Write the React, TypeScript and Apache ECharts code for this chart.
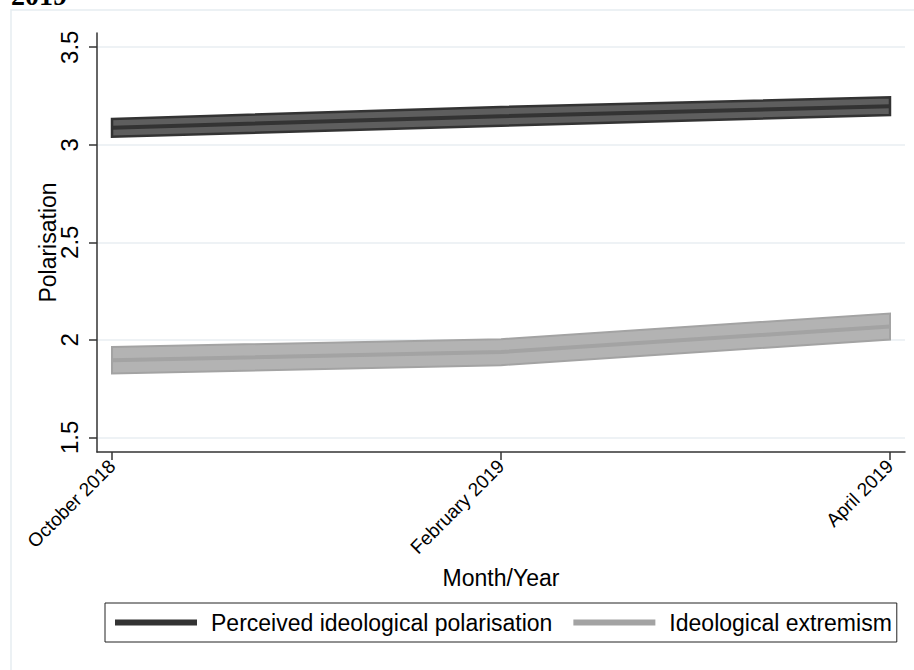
import React, { useEffect, useRef } from "react";
import * as echarts from "echarts";

const catLabels = ["October 2018", "February 2019", "April 2019"];
const catIndex = [0, 1, 2];
const yTicks = [1.5, 2, 2.5, 3, 3.5];

const polarMean = [3.087, 3.146, 3.198];
const polarLo = [3.041, 3.098, 3.153];
const polarHi = [3.132, 3.194, 3.243];

const extremMean = [1.895, 1.937, 2.068];
const extremLo = [1.827, 1.87, 2.001];
const extremHi = [1.963, 2.003, 2.135];

const seriesNames = ["Perceived ideological polarisation", "Ideological extremism"];

const FONT = "'Liberation Sans', Arial, sans-serif";

function bandSeries(lo: number[], hi: number[], fill: string, stroke: string, lw: number) {
  return {
    type: "custom",
    z: 2,
    silent: true,
    data: catIndex.map((x, i) => [x, lo[i], hi[i]]),
    encode: { x: 0, y: [1, 2] },
    renderItem: (params: any, api: any) => {
      if (params.dataIndex !== 0) return null;
      const upper = catIndex.map((x, i) => api.coord([x, hi[i]]));
      const lower = catIndex.map((x, i) => api.coord([x, lo[i]])).reverse();
      return {
        type: "polygon",
        shape: { points: upper.concat(lower) },
        style: { fill, stroke, lineWidth: lw, lineJoin: "miter" },
      };
    },
  };
}

export default function App() {
  const ref = useRef<HTMLDivElement>(null);
  useEffect(() => {
    if (!ref.current) return;
    const chart = echarts.init(ref.current, undefined, { renderer: "svg" });
    chart.setOption({
      animation: false,
      backgroundColor: "#ffffff",
      textStyle: { fontFamily: FONT },
      graphic: [
        {
          type: "rect",
          z: -10,
          shape: { x: 11, y: 10, width: 940, height: 700 },
          style: { fill: "none", stroke: "#e6edf1", lineWidth: 1.5 },
          silent: true,
        },
        {
          type: "text",
          x: 11,
          y: 9,
          style: {
            text: "2019",
            font: "bold 28px 'Liberation Serif', serif",
            fill: "#000",
            textVerticalAlign: "bottom",
          },
          silent: true,
        },
      ],
      grid: {
        left: 97,
        right: 9,
        top: 33,
        bottom: 218,
        containLabel: false,
        outerBoundsMode: "none",
      },
      legend: {
        left: 105,
        top: 603,
        orient: "horizontal",
        itemWidth: 82,
        itemHeight: 6,
        itemGap: 21,
        padding: [8, 5, 8, 10],
        borderColor: "#222",
        borderWidth: 1,
        textStyle: { fontSize: 23, color: "#000", fontFamily: FONT, padding: [0, 0, 0, 9] },
        data: [
          { name: seriesNames[0], icon: "rect", itemStyle: { color: "#333333" } },
          { name: seriesNames[1], icon: "rect", itemStyle: { color: "#a3a3a3" } },
        ],
      },
      xAxis: {
        type: "value",
        min: -0.0386,
        max: 2.0386,
        name: "Month/Year",
        nameLocation: "middle",
        nameGap: 114,
        nameMoveOverlap: false,
        nameTextStyle: { fontSize: 23, color: "#000", fontFamily: FONT },
        axisLine: { show: true, onZero: false, lineStyle: { color: "#333", width: 1.5 } },
        axisTick: {
          show: true,
          length: 8,
          customValues: catIndex,
          lineStyle: { color: "#333", width: 1.5 },
        },
        axisLabel: {
          customValues: catIndex,
          rotate: 45,
          margin: 11,
          fontSize: 19,
          color: "#000",
          fontFamily: FONT,
          formatter: (v: number) => catLabels[Math.round(v)] ?? "",
        },
        splitLine: { show: false },
      },
      yAxis: {
        type: "value",
        min: 1.4246,
        max: 3.573,
        name: "Polarisation",
        nameLocation: "middle",
        nameGap: 38,
        nameMoveOverlap: false,
        nameTextStyle: { fontSize: 23, color: "#000", fontFamily: FONT },
        axisLine: { show: true, onZero: false, lineStyle: { color: "#333", width: 1.5 } },
        axisTick: {
          show: true,
          length: 8,
          customValues: yTicks,
          lineStyle: { color: "#333", width: 1.5 },
        },
        axisLabel: {
          customValues: yTicks,
          rotate: 90,
          margin: 16,
          fontSize: 24,
          color: "#000",
          fontFamily: FONT,
          formatter: (v: number) => String(v),
        },
        splitLine: { show: false },
      },
      series: [
        {
          type: "line",
          name: "gridlines",
          z: 0,
          data: [],
          silent: true,
          markLine: {
            silent: true,
            z: 0,
            symbol: ["none", "none"],
            label: { show: false },
            lineStyle: { color: "#e8eef2", width: 1.5, type: "solid" },
            data: yTicks.map((v) => ({ yAxis: v })),
          },
        },
        bandSeries(polarLo, polarHi, "#5e5e5e", "#333333", 2.5),
        bandSeries(extremLo, extremHi, "#b3b3b3", "#a3a3a3", 2),
        {
          type: "line",
          name: seriesNames[0],
          z: 3,
          symbol: "none",
          color: "#333333",
          lineStyle: { color: "#333333", width: 4 },
          data: catIndex.map((x, i) => [x, polarMean[i]]),
        },
        {
          type: "line",
          name: seriesNames[1],
          z: 3,
          symbol: "none",
          color: "#a3a3a3",
          lineStyle: { color: "#a3a3a3", width: 4 },
          data: catIndex.map((x, i) => [x, extremMean[i]]),
        },
      ],
    });
    return () => chart.dispose();
  }, []);
  return (
    <div
      ref={ref}
      style={{ position: "fixed", left: 0, top: 0, width: 914, height: 670, background: "#fff" }}
    />
  );
}
